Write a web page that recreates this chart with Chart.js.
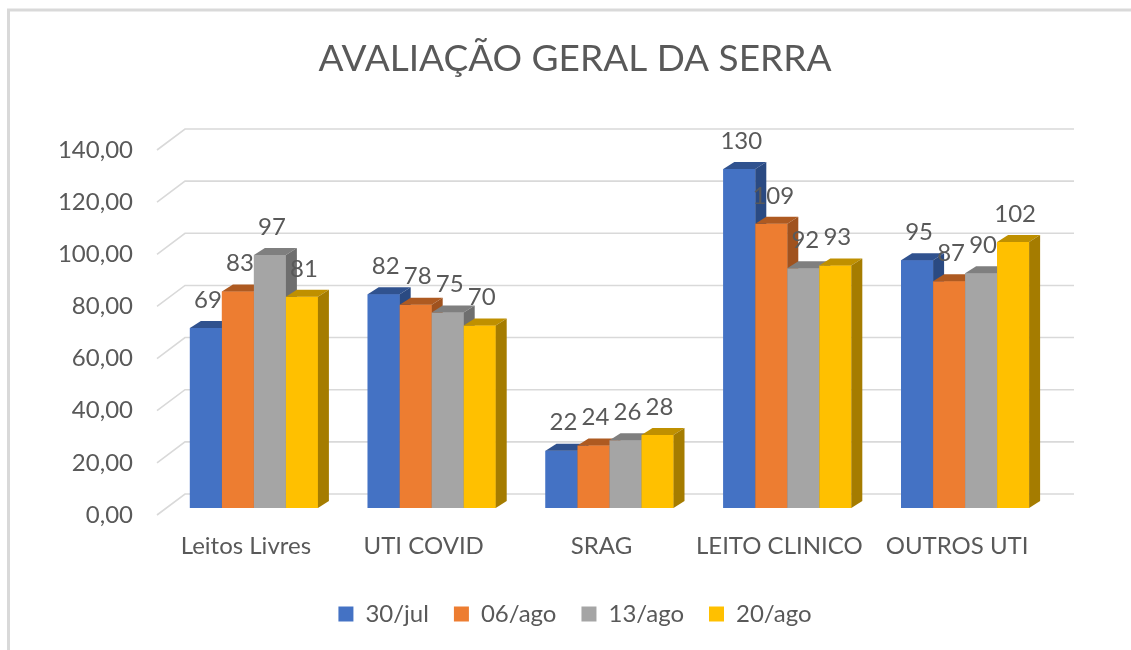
<!DOCTYPE html>
<html><head><meta charset="utf-8">
<script src="https://cdn.jsdelivr.net/npm/chart.js@4"></script>
<style>html,body{margin:0;padding:0;background:#fff;overflow:hidden}
#wrap{position:absolute;left:0;top:0;width:1131px;height:650px}</style>
</head><body><div id="wrap"><canvas id="c" width="1131" height="650"></canvas></div>
<script>
const chartTitle = 'AVALIAÇÃO GERAL DA SERRA';
const categories = ['Leitos Livres', 'UTI COVID', 'SRAG', 'LEITO CLINICO', 'OUTROS UTI'];
const seriesNames = ['30/jul', '06/ago', '13/ago', '20/ago'];
const s30jul = [69, 82, 22, 130, 95];
const s06ago = [83, 78, 24, 109, 87];
const s13ago = [97, 75, 26, 92, 90];
const s20ago = [81, 70, 28, 93, 102];
const yTickLabels = ['0,00', '20,00', '40,00', '60,00', '80,00', '100,00', '120,00', '140,00'];

const seriesValues = [s30jul, s06ago, s13ago, s20ago];
const frontColors = ['#4472C4', '#ED7D31', '#A5A5A5', '#FFC000'];
const topColors = ['#30528F', '#AE5A21', '#7F7F7F', '#BF9000'];
const sideColors = ['#2A4A82', '#A0521E', '#6E6E6E', '#A57C00'];
const TXT = '#595959';
const FONT = 'Lato, "Noto Sans", sans-serif';
const DX = 11, DY = 7;

const threeD = {
  id: 'threeD',
  beforeDraw(chart) {
    const ctx = chart.ctx;
    ctx.save();
    ctx.strokeStyle = '#D9D9D9';
    ctx.lineWidth = 3;
    ctx.beginPath();
    ctx.moveTo(8.5, 650); ctx.lineTo(8.5, 10); ctx.lineTo(1131, 10);
    ctx.stroke();
    ctx.restore();
  },
  beforeDatasetsDraw(chart) {
    const {ctx, chartArea: a} = chart;
    const y = chart.scales.y;
    ctx.save();
    ctx.strokeStyle = '#D9D9D9';
    ctx.lineWidth = 1.6;
    y.ticks.forEach(t => {
      const py = y.getPixelForValue(t.value);
      ctx.beginPath();
      ctx.moveTo(a.left - 8, py + 7);
      ctx.lineTo(a.left + 20, py - 14);
      ctx.lineTo(a.right + 20, py - 14);
      ctx.stroke();
    });
    ctx.restore();
  },
  afterDatasetsDraw(chart) {
    const ctx = chart.ctx;
    ctx.save();
    // redraw bars left-to-right in series order so that each next front face hides the previous side face
    chart.data.datasets.forEach((ds, i) => {
      const meta = chart.getDatasetMeta(i);
      meta.data.forEach(bar => {
        bar.draw(ctx);
        const {x, y, base, width} = bar.getProps(['x', 'y', 'base', 'width'], true);
        const l = x - width / 2, r = x + width / 2;
        ctx.fillStyle = topColors[i];
        ctx.beginPath();
        ctx.moveTo(l, y); ctx.lineTo(l + DX, y - DY); ctx.lineTo(r + DX, y - DY); ctx.lineTo(r, y);
        ctx.closePath(); ctx.fill();
        ctx.fillStyle = sideColors[i];
        ctx.beginPath();
        ctx.moveTo(r, y); ctx.lineTo(r + DX, y - DY); ctx.lineTo(r + DX, base - DY); ctx.lineTo(r, base);
        ctx.closePath(); ctx.fill();
      });
    });
    ctx.font = '24px ' + FONT;
    ctx.fillStyle = TXT;
    ctx.textAlign = 'center';
    ctx.textBaseline = 'middle';
    chart.data.datasets.forEach((ds, i) => {
      const meta = chart.getDatasetMeta(i);
      meta.data.forEach((bar, j) => {
        const {x, y} = bar.getProps(['x', 'y'], true);
        ctx.fillText(String(ds.data[j]), x + 2, y - 28);
      });
    });
    ctx.restore();
  }
};

function draw() {
  new Chart(document.getElementById('c'), {
    type: 'bar',
    data: {
      labels: categories,
      datasets: seriesNames.map((n, i) => ({
        label: n,
        data: seriesValues[i],
        backgroundColor: frontColors[i],
        borderWidth: 0,
        clip: false,
        barPercentage: 1,
        categoryPercentage: 0.72
      }))
    },
    options: {
      responsive: false,
      animation: false,
      layout: {padding: {left: 19, right: 0, top: 0, bottom: 14}},
      plugins: {
        tooltip: {enabled: false},
        title: {
          display: true, text: chartTitle, color: TXT,
          font: {family: FONT, size: 37, weight: 'normal'},
          padding: {top: 37.3, bottom: 61.3}
        },
        legend: {
          position: 'bottom',
          labels: {
            color: TXT, font: {family: FONT, size: 24},
            boxWidth: 15, boxHeight: 15, padding: 25
          }
        }
      },
      scales: {
        x: {
          grid: {display: false, drawTicks: false},
          border: {display: false},
          ticks: {color: TXT, font: {family: FONT, size: 24}, padding: 24, labelOffset: -8, autoSkip: false, maxRotation: 0},
          afterFit(s) { s.height = 69; }
        },
        y: {
          min: 0, max: 140,
          grid: {display: false, drawTicks: false},
          border: {display: false},
          ticks: {stepSize: 20, color: TXT, font: {family: FONT, size: 24}, padding: 32, labelOffset: 7,
            callback: (v, idx) => yTickLabels[idx]},
          afterFit(s) { s.width = 146; }
        },
        y2: {
          position: 'right', display: true,
          grid: {display: false, drawTicks: false},
          border: {display: false},
          ticks: {display: false},
          afterFit(s) { s.width = 77; }
        }
      }
    },
    plugins: [threeD]
  });
}
if (document.fonts && document.fonts.load) {
  document.fonts.load('24px Lato').then(draw, draw);
} else { draw(); }
</script></body></html>
